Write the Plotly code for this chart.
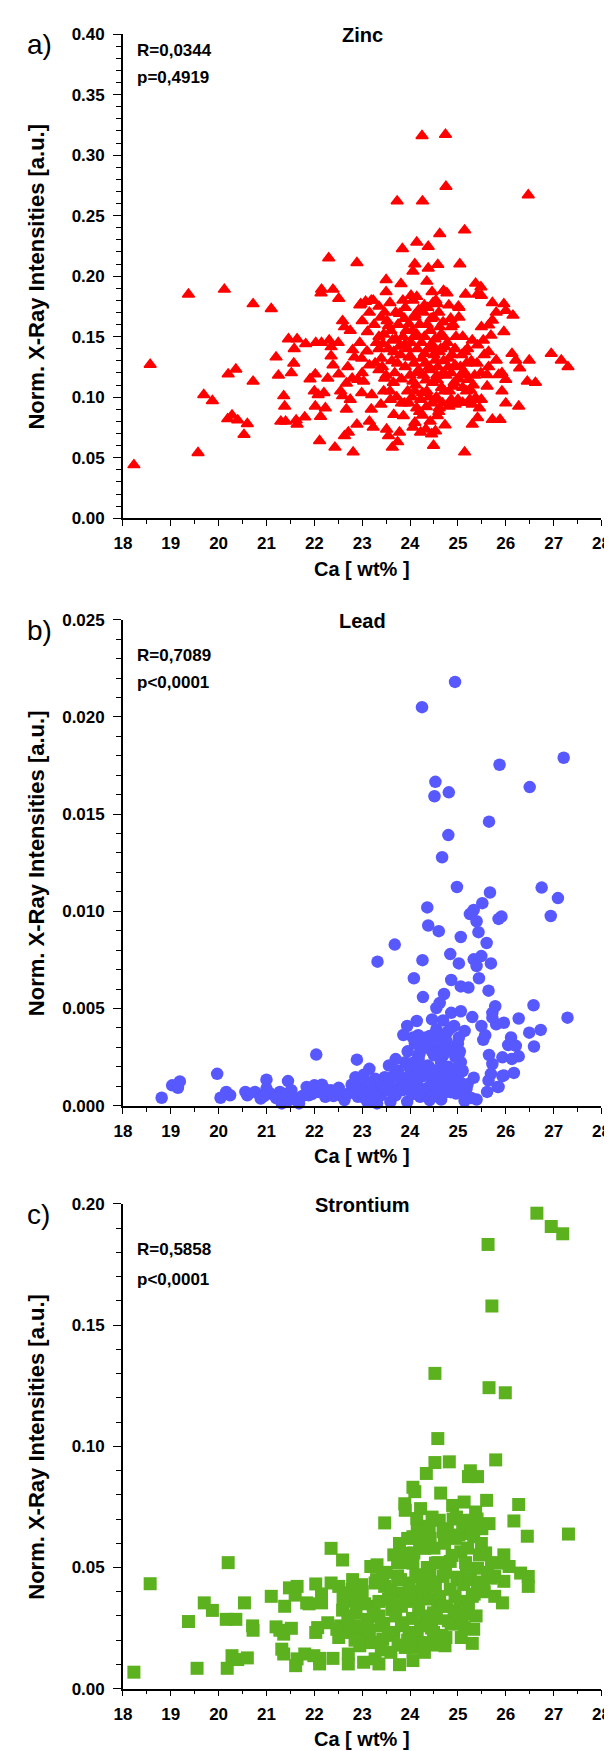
import plotly.graph_objects as go

# ---- data: (Ca wt%, normalised X-ray intensity) ----
zinc_points = [
    (24.25, 0.316), (24.74, 0.317), (24.75, 0.274), (23.73, 0.262), (24.26, 0.262), (26.47, 0.267),
    (25.14, 0.238), (24.62, 0.235), (24.14, 0.228), (24.38, 0.2245), (23.84, 0.2226), (22.30, 0.215),
    (22.89, 0.211), (24.10, 0.210), (24.58, 0.2095), (25.04, 0.210), (24.38, 0.2065), (24.06, 0.204),
    (23.50, 0.197), (23.81, 0.1937), (24.35, 0.1956), (19.37, 0.185), (20.12, 0.189), (20.72, 0.177),
    (21.10, 0.173), (22.15, 0.189), (22.39, 0.189), (22.14, 0.186), (22.51, 0.1815), (23.50, 0.187),
    (24.70, 0.188), (24.77, 0.186), (25.16, 0.185), (25.37, 0.194), (25.48, 0.191), (25.49, 0.184),
    (25.41, 0.185), (24.46, 0.187), (24.02, 0.184), (24.14, 0.183), (24.54, 0.180), (24.30, 0.176),
    (24.81, 0.176), (25.01, 0.175), (23.85, 0.180), (22.95, 0.176), (23.23, 0.180), (23.07, 0.179),
    (18.57, 0.127), (18.23, 0.044), (19.57, 0.054), (19.69, 0.102), (19.87, 0.097), (20.20, 0.119),
    (20.36, 0.123), (20.72, 0.113), (20.19, 0.082), (20.28, 0.085), (20.40, 0.081), (20.60, 0.078),
    (20.53, 0.069), (21.20, 0.133), (21.25, 0.118), (21.46, 0.148), (21.64, 0.148), (21.58, 0.140),
    (21.82, 0.144), (21.57, 0.128), (21.52, 0.120), (21.36, 0.101), (21.38, 0.0925), (21.30, 0.080),
    (21.40, 0.080), (21.62, 0.081), (21.64, 0.0775), (21.80, 0.0835), (22.03, 0.145), (22.15, 0.145),
    (22.31, 0.147), (22.35, 0.1415), (22.35, 0.134), (22.39, 0.1265), (21.91, 0.115), (22.02, 0.119),
    (22.28, 0.1155), (22.00, 0.105), (22.08, 0.102), (22.20, 0.1035), (22.02, 0.0925), (22.23, 0.091),
    (22.13, 0.084), (22.11, 0.064), (22.43, 0.0585), (22.59, 0.163), (22.63, 0.158), (22.51, 0.119),
    (22.59, 0.101), (22.67, 0.090), (22.63, 0.068), (22.71, 0.071), (22.81, 0.0545), (22.89, 0.0775),
    (22.80, 0.139), (22.84, 0.133), (22.75, 0.155), (22.79, 0.1155), (22.67, 0.1115), (22.91, 0.1145),
    (22.99, 0.1035), (23.03, 0.113), (22.99, 0.132), (22.97, 0.177), (23.00, 0.163), (23.19, 0.180),
    (23.15, 0.170), (23.11, 0.154), (23.15, 0.1265), (23.27, 0.128), (23.35, 0.1225), (23.19, 0.090),
    (23.15, 0.080), (23.23, 0.075), (23.39, 0.094), (23.47, 0.1155), (23.51, 0.0735), (23.55, 0.068),
    (23.63, 0.0585), (23.59, 0.098), (23.66, 0.0855), (23.74, 0.063), (23.78, 0.071), (23.82, 0.095),
    (23.86, 0.0845), (23.39, 0.166), (23.47, 0.170), (23.55, 0.159), (23.35, 0.150), (23.43, 0.144),
    (23.63, 0.147), (23.66, 0.1375), (23.74, 0.128), (23.78, 0.169), (23.90, 0.174), (23.98, 0.1605),
    (23.90, 0.144), (24.06, 0.180), (24.10, 0.166), (24.14, 0.152), (24.02, 0.133), (24.18, 0.1225),
    (24.06, 0.113), (24.10, 0.105), (23.98, 0.095), (24.14, 0.091), (24.10, 0.079), (24.06, 0.075),
    (24.22, 0.071), (24.33, 0.0735), (24.45, 0.0695), (24.53, 0.072), (24.49, 0.060), (24.73, 0.077),
    (25.14, 0.0545), (24.26, 0.1035), (24.33, 0.114), (24.42, 0.1225), (24.30, 0.136), (24.45, 0.144),
    (24.42, 0.155), (24.49, 0.166), (24.37, 0.174), (24.57, 0.177), (24.69, 0.162), (24.65, 0.152),
    (24.61, 0.1375), (24.73, 0.1415), (24.81, 0.132), (24.53, 0.1305), (24.57, 0.114), (24.69, 0.120),
    (24.53, 0.098), (24.61, 0.091), (24.57, 0.0845), (24.86, 0.120), (24.94, 0.1265), (24.81, 0.0925),
    (24.94, 0.094), (24.90, 0.109), (25.02, 0.174), (25.02, 0.166), (24.86, 0.158), (25.10, 0.150),
    (25.14, 0.1375), (25.18, 0.128), (25.06, 0.1185), (25.22, 0.1145), (25.26, 0.106), (25.10, 0.0955),
    (25.30, 0.094), (25.30, 0.0775), (25.41, 0.083), (25.45, 0.091), (25.49, 0.098), (25.37, 0.0995),
    (25.30, 0.147), (25.41, 0.143), (25.53, 0.147), (25.49, 0.158), (25.64, 0.1595), (25.72, 0.1635),
    (25.80, 0.170), (26.00, 0.1715), (26.15, 0.1675), (25.69, 0.151), (25.96, 0.154), (25.64, 0.1375),
    (25.80, 0.1305), (25.64, 0.125), (25.61, 0.1185), (25.85, 0.1185), (25.92, 0.120), (26.00, 0.1145),
    (25.61, 0.109), (25.92, 0.105), (26.00, 0.095), (25.72, 0.0815), (25.88, 0.0815), (26.27, 0.0925),
    (26.13, 0.136), (26.21, 0.1305), (26.29, 0.124), (26.49, 0.1305), (26.45, 0.113), (26.62, 0.112),
    (26.95, 0.136), (27.16, 0.1305), (27.30, 0.125), (25.72, 0.178), (25.96, 0.177),
    (23.30, 0.145), (23.45, 0.152), (23.55, 0.140), (23.60, 0.155), (23.70, 0.148), (23.75, 0.160),
    (23.80, 0.135), (23.85, 0.150), (23.90, 0.125), (23.95, 0.140), (24.00, 0.118), (24.05, 0.155),
    (24.08, 0.128), (24.12, 0.110), (24.15, 0.140), (24.20, 0.160), (24.22, 0.098), (24.25, 0.132),
    (24.28, 0.118), (24.30, 0.150), (24.35, 0.105), (24.38, 0.140), (24.40, 0.125), (24.44, 0.165),
    (24.47, 0.112), (24.50, 0.135), (24.52, 0.148), (24.55, 0.100), (24.58, 0.125), (24.62, 0.158),
    (24.66, 0.108), (24.70, 0.130), (24.75, 0.118), (24.78, 0.145), (24.82, 0.105), (24.88, 0.135),
    (24.92, 0.112), (24.96, 0.150), (25.00, 0.098), (25.05, 0.125), (25.10, 0.108), (25.15, 0.120),
    (25.20, 0.140), (25.25, 0.098), (25.35, 0.118), (25.40, 0.128), (23.40, 0.132), (23.50, 0.118),
    (23.65, 0.112), (23.72, 0.100), (23.95, 0.105), (24.02, 0.145), (24.10, 0.168), (24.18, 0.172),
    (24.26, 0.085), (24.34, 0.092), (24.42, 0.080), (24.60, 0.088), (24.68, 0.095), (23.25, 0.160),
    (23.35, 0.175), (23.58, 0.178), (23.88, 0.165), (24.48, 0.178), (24.85, 0.165), (22.50, 0.145),
    (22.70, 0.125), (22.95, 0.145), (23.10, 0.138), (23.20, 0.102), (23.00, 0.120), (22.55, 0.105),
    (22.75, 0.098),
    (23.35, 0.140), (23.42, 0.125), (23.52, 0.163), (23.62, 0.130), (23.68, 0.120), (23.78, 0.142),
    (23.82, 0.115), (23.92, 0.155), (23.98, 0.133), (24.04, 0.100), (24.08, 0.150), (24.16, 0.120),
    (24.24, 0.145), (24.32, 0.128), (24.36, 0.160), (24.46, 0.095), (24.48, 0.140), (24.56, 0.118),
    (24.64, 0.140), (24.72, 0.105), (24.80, 0.125), (24.86, 0.098), (24.94, 0.140), (25.02, 0.115),
    (25.08, 0.135), (25.18, 0.105), (23.58, 0.105), (23.88, 0.095), (24.20, 0.088), (24.40, 0.100),
    (24.70, 0.150), (24.90, 0.160), (23.70, 0.170), (24.28, 0.170), (24.60, 0.170), (25.28, 0.130),
    (25.32, 0.110), (25.48, 0.120), (25.55, 0.135), (23.45, 0.105),
]

lead_points = [
    (24.94, 0.0218), (24.25, 0.0205), (27.21, 0.0179), (25.87, 0.01754), (24.53, 0.01666), (26.50, 0.01639),
    (24.51, 0.01592), (24.81, 0.01612), (25.65, 0.01461), (24.80, 0.01392), (24.67, 0.01278),
    (24.98, 0.01125), (25.67, 0.01097), (26.75, 0.01122), (27.09, 0.01068), (24.36, 0.0102), (25.33, 0.01007),
    (25.25, 0.00986), (25.51, 0.01042), (25.39, 0.00949), (25.85, 0.00961), (25.91, 0.00973), (26.94, 0.00976),
    (24.38, 0.00927), (24.60, 0.00898), (25.43, 0.00893), (25.06, 0.00868), (23.68, 0.00829), (25.60, 0.00837),
    (24.84, 0.0078), (25.49, 0.0077), (25.33, 0.00753), (25.39, 0.00719), (23.32, 0.00741), (24.26, 0.00749),
    (25.02, 0.00732), (25.69, 0.00732), (24.08, 0.00656), (24.86, 0.00647), (25.44, 0.00656), (25.06, 0.00614),
    (25.22, 0.00608), (25.64, 0.00592), (24.71, 0.00575), (24.27, 0.00559), (24.62, 0.00529), (24.55, 0.00503),
    (26.58, 0.00517), (25.78, 0.00512), (24.86, 0.00478), (25.06, 0.00486), (25.72, 0.00478), (25.30, 0.00456),
    (26.27, 0.00449), (27.29, 0.00453), (24.14, 0.00436), (24.46, 0.00444), (24.69, 0.00439), (25.72, 0.00453),
    (25.96, 0.00427), (23.94, 0.0041), (24.92, 0.0041), (25.49, 0.0041), (25.80, 0.00419), (24.55, 0.00393),
    (25.14, 0.00385), (26.73, 0.0039), (26.49, 0.00376), (23.86, 0.00364), (24.17, 0.00363), (24.41, 0.00359),
    (25.02, 0.00351), (25.57, 0.00363), (25.53, 0.00339), (26.11, 0.00351), (24.06, 0.00351), (24.76, 0.00334),
    (24.26, 0.00308), (24.53, 0.00317), (26.05, 0.00312), (26.21, 0.00308), (26.59, 0.00305), (24.94, 0.00292),
    (24.45, 0.00283), (24.69, 0.00258), (25.02, 0.00266), (25.65, 0.00261), (24.17, 0.00254), (25.93, 0.00249),
    (26.27, 0.00254), (26.13, 0.00241), (22.04, 0.00263), (22.89, 0.00237), (25.06, 0.00224), (25.72, 0.00215),
    (23.90, 0.00224), (23.56, 0.00207), (24.37, 0.00207), (23.15, 0.0019), (24.86, 0.0019), (24.21, 0.00181),
    (25.06, 0.00173), (26.17, 0.00169), (25.69, 0.00164), (23.03, 0.00159), (24.00, 0.00156), (25.93, 0.00153),
    (25.33, 0.00144), (22.86, 0.00147), (23.27, 0.00139), (23.47, 0.00147), (23.66, 0.00153), (24.69, 0.00147),
    (25.64, 0.0013), (24.49, 0.00125), (21.00, 0.00134), (21.45, 0.00127), (23.82, 0.00122), (24.14, 0.00114),
    (22.78, 0.00108), (23.35, 0.00105), (24.94, 0.00105), (25.14, 0.00097), (25.83, 0.00097), (25.61, 0.00071),
    (25.18, 0.00088), (19.97, 0.00164), (19.19, 0.00125), (19.03, 0.00105), (19.15, 0.00092), (18.81, 0.00041),
    (20.16, 0.00071), (20.24, 0.00054), (20.04, 0.00041), (20.56, 0.00071), (20.60, 0.00054), (20.76, 0.00071),
    (20.88, 0.00037), (21.00, 0.00088), (21.08, 0.00063), (21.28, 0.00071), (21.32, 0.00012), (21.52, 0.0008),
    (21.48, 0.00029), (21.64, 0.00037), (21.68, 0.00012), (21.84, 0.00097), (21.88, 0.00054), (22.00, 0.00105),
    (22.08, 0.00071), (22.16, 0.00108), (22.23, 0.00046), (22.35, 0.0008), (22.51, 0.00092), (22.55, 0.00054),
    (22.63, 0.00029), (22.71, 0.00063), (22.83, 0.00088), (22.91, 0.00046), (22.99, 0.00071), (23.11, 0.0002),
    (23.19, 0.00088), (23.31, 0.00012), (23.39, 0.00054), (23.51, 0.0008), (23.59, 0.0002), (23.70, 0.00054),
    (23.78, 0.00088), (23.94, 0.0002), (24.02, 0.00071), (24.21, 0.00046), (24.33, 0.0008), (24.41, 0.00029),
    (24.61, 0.00054), (24.65, 0.00032), (24.76, 0.00071), (24.96, 0.00063), (25.14, 0.00025), (25.39, 0.00032),
    (25.85, 0.00097), (25.96, 0.00156),
    (23.75, 0.0018), (23.95, 0.0028), (24.05, 0.0022), (24.10, 0.0032), (24.20, 0.0027), (24.25, 0.0015),
    (24.30, 0.0035), (24.40, 0.0020), (24.45, 0.0012), (24.50, 0.0026), (24.55, 0.0018), (24.60, 0.0036),
    (24.65, 0.0022), (24.70, 0.0030), (24.75, 0.0010), (24.80, 0.0020), (24.85, 0.0040), (24.90, 0.0015),
    (24.95, 0.0025), (25.00, 0.0032), (25.05, 0.0012), (25.10, 0.0018), (23.60, 0.0010), (23.85, 0.0008),
    (24.00, 0.0012), (24.15, 0.0006), (24.35, 0.0009), (24.55, 0.0008), (24.85, 0.0007), (25.00, 0.0009),
    (23.40, 0.0012), (23.20, 0.0008), (22.95, 0.0010), (23.05, 0.0004), (22.40, 0.0005), (22.20, 0.0009),
    (21.95, 0.0006), (21.75, 0.0005), (21.20, 0.0004), (21.40, 0.0006), (20.95, 0.0005),
    (23.10, 0.0012), (23.25, 0.0005), (23.45, 0.0009), (23.55, 0.0014), (23.65, 0.0006), (23.70, 0.0024),
    (23.80, 0.0015), (23.90, 0.0011), (24.00, 0.0019), (24.05, 0.0006), (24.12, 0.0014), (24.18, 0.0024),
    (24.24, 0.0008), (24.28, 0.0020), (24.38, 0.0030), (24.42, 0.0016), (24.48, 0.0005), (24.52, 0.0033),
    (24.58, 0.0013), (24.62, 0.0027), (24.68, 0.0009), (24.72, 0.0017), (24.78, 0.0038), (24.82, 0.0012),
    (24.88, 0.0028), (24.92, 0.0008), (24.98, 0.0019), (25.04, 0.0028), (25.12, 0.0006), (25.20, 0.0011),
    (25.28, 0.0004),
]

strontium_points = [
    (26.65, 0.1962), (26.95, 0.1907), (27.19, 0.1877), (25.63, 0.1833), (25.71, 0.1579), (24.52, 0.1301),
    (25.65, 0.1242), (25.99, 0.1221), (24.58, 0.1032), (24.52, 0.0933), (24.82, 0.0936), (25.79, 0.0944),
    (24.34, 0.0888), (25.26, 0.0899), (25.41, 0.0875), (25.22, 0.0875), (24.06, 0.0831), (24.10, 0.0813),
    (24.64, 0.0807), (25.60, 0.0777), (23.89, 0.0763), (23.90, 0.0736), (24.22, 0.0743), (24.89, 0.0756),
    (25.13, 0.077), (26.27, 0.076), (25.37, 0.0729), (24.97, 0.0708), (24.14, 0.0702), (24.46, 0.0708),
    (24.61, 0.0695), (26.17, 0.0692), (23.47, 0.0684), (25.65, 0.0681), (25.18, 0.0695), (25.33, 0.0681),
    (24.26, 0.0654), (26.45, 0.0629), (27.31, 0.0638), (25.02, 0.0634), (25.33, 0.0627), (24.06, 0.0627),
    (24.33, 0.0627), (24.69, 0.0647), (23.78, 0.0599), (25.49, 0.0599), (24.30, 0.0579), (22.35, 0.0579),
    (23.66, 0.0552), (23.90, 0.0559), (25.06, 0.0565), (25.96, 0.0552), (25.45, 0.0552), (22.59, 0.0531),
    (20.20, 0.052), (23.18, 0.0504), (23.31, 0.0511), (23.74, 0.0518), (24.53, 0.0518), (24.84, 0.0525),
    (25.83, 0.0518), (26.07, 0.0504), (26.31, 0.0477), (26.47, 0.0463), (26.47, 0.0422), (25.96, 0.0443),
    (25.69, 0.0456), (25.41, 0.0497), (18.57, 0.0433), (18.23, 0.0068), (19.37, 0.0277), (19.55, 0.0084),
    (19.70, 0.0354), (19.87, 0.0323), (20.16, 0.0286), (20.36, 0.0286), (20.54, 0.0354), (20.71, 0.0259),
    (20.72, 0.0241), (20.28, 0.0136), (20.40, 0.012), (20.60, 0.0127), (20.18, 0.0084), (21.10, 0.0381),
    (21.20, 0.0255), (21.28, 0.0241), (21.38, 0.034), (21.36, 0.0225), (21.52, 0.0249), (21.32, 0.0163),
    (21.36, 0.0143), (21.48, 0.0416), (21.64, 0.0422), (21.60, 0.0386), (21.61, 0.0095), (21.64, 0.0123),
    (21.84, 0.0354), (21.89, 0.035), (21.80, 0.0143), (22.03, 0.0432), (22.15, 0.0391), (22.15, 0.0354),
    (22.07, 0.0252), (22.03, 0.0232), (22.11, 0.0125), (22.11, 0.0102), (21.99, 0.0136), (22.28, 0.0272),
    (22.35, 0.0436), (22.51, 0.0422), (22.51, 0.0211), (22.39, 0.0125), (22.59, 0.0324), (22.71, 0.0143),
    (22.71, 0.0102), (22.63, 0.0395), (22.79, 0.0409), (22.83, 0.0361), (22.87, 0.0313), (22.99, 0.0429),
    (23.03, 0.0109), (23.27, 0.0123), (23.35, 0.0102), (23.78, 0.0099), (24.06, 0.0116), (23.90, 0.017),
    (24.10, 0.017), (24.38, 0.0188), (24.73, 0.0177), (24.75, 0.0211), (25.07, 0.0211), (25.30, 0.0187),
    (25.33, 0.0245), (25.13, 0.0252), (24.86, 0.0266), (25.13, 0.0307), (24.58, 0.034), (24.94, 0.0381),
    (25.30, 0.0381), (25.41, 0.0409), (25.77, 0.0381), (25.93, 0.0354), (25.53, 0.0436), (25.77, 0.0463),
    (23.47, 0.0422), (23.23, 0.034), (23.11, 0.0286), (23.35, 0.03), (23.62, 0.0327), (22.99, 0.0218),
    (22.95, 0.0177), (23.19, 0.0191), (23.43, 0.0204), (23.66, 0.0232), (23.82, 0.0272), (23.98, 0.0232),
    (24.22, 0.0259), (24.38, 0.0286), (24.49, 0.0232), (23.74, 0.0395), (23.98, 0.0436), (24.22, 0.0463),
    (24.41, 0.049), (24.69, 0.0463), (24.14, 0.0368), (24.30, 0.0395), (24.53, 0.0422), (23.74, 0.0463),
    (24.06, 0.0518), (23.82, 0.034), (23.43, 0.0463), (23.27, 0.0436), (23.55, 0.0368), (24.76, 0.034),
    (25.02, 0.045), (25.18, 0.049), (22.55, 0.0259), (22.67, 0.0232), (22.47, 0.0245), (22.79, 0.0252),
    (23.39, 0.0259), (24.49, 0.0313),
    (23.15, 0.024), (23.25, 0.031), (23.35, 0.036), (23.45, 0.027), (23.55, 0.022), (23.60, 0.041),
    (23.70, 0.030), (23.75, 0.018), (23.80, 0.045), (23.85, 0.026), (23.92, 0.036), (23.95, 0.020),
    (24.00, 0.040), (24.05, 0.029), (24.12, 0.047), (24.15, 0.022), (24.18, 0.033), (24.25, 0.042),
    (24.28, 0.019), (24.32, 0.030), (24.36, 0.050), (24.40, 0.037), (24.45, 0.025), (24.48, 0.044),
    (24.55, 0.029), (24.58, 0.052), (24.62, 0.038), (24.66, 0.022), (24.70, 0.034), (24.74, 0.048),
    (24.80, 0.028), (24.84, 0.041), (24.88, 0.055), (24.92, 0.032), (24.98, 0.046), (25.04, 0.036),
    (25.08, 0.027), (25.12, 0.043), (25.16, 0.052), (25.22, 0.034), (25.26, 0.045), (25.34, 0.039),
    (25.38, 0.030), (25.45, 0.044), (25.55, 0.040), (25.62, 0.048), (23.05, 0.035), (23.00, 0.040),
    (22.90, 0.026), (23.30, 0.045), (23.50, 0.048), (23.65, 0.036), (23.88, 0.052), (24.08, 0.056),
    (24.20, 0.060), (24.42, 0.062), (24.50, 0.058), (24.72, 0.060), (24.78, 0.066), (24.95, 0.062),
    (25.10, 0.067), (25.28, 0.064), (25.40, 0.070), (25.50, 0.066), (24.90, 0.070), (24.40, 0.067),
    (24.15, 0.065), (23.95, 0.062), (25.20, 0.058), (25.58, 0.056), (25.70, 0.052), (23.20, 0.019),
    (23.60, 0.015), (24.30, 0.015), (24.55, 0.018), (23.40, 0.016), (22.85, 0.020), (22.70, 0.030),
    (22.60, 0.037), (22.80, 0.045),
]

panels = [
    dict(letter="a)", name="Zinc", r="R=0,0344", p="p=0,4919", points=zinc_points,
         ymax=0.40, dtick=0.05, minor=0.01, fmt=".2f", symbol="triangle-up", size=10.5, color="#FF0000",
         top=17.3, bottom=506.7, r_dy=17, p_dy=44),
    dict(letter="b)", name="Lead", r="R=0,7089", p="p&lt;0,0001", points=lead_points,
         ymax=0.025, dtick=0.005, minor=0.001, fmt=".3f", symbol="circle", size=12.5, color="#5858FF",
         top=609.3, bottom=1100.7, r_dy=36, p_dy=63),
    dict(letter="c)", name="Strontium", r="R=0,5858", p="p&lt;0,0001", points=strontium_points,
         ymax=0.20, dtick=0.05, minor=0.01, fmt=".2f", symbol="square", size=13, color="#5CB11E",
         top=1200, bottom=1690, r_dy=46, p_dy=76),
]

W, H = 612, 1751
X0, X1 = 109.1, 602.2
FONT = "Liberation Sans, Arial, sans-serif"


def fx(px):
    return px / W


def fy(py):
    return 1 - py / H


fig = go.Figure()
annotations = []

for i, pnl in enumerate(panels):
    n = "" if i == 0 else str(i + 1)
    xs = [pt[0] for pt in pnl["points"]]
    ys = [pt[1] for pt in pnl["points"]]
    line = dict(width=1.5, color=pnl["color"]) if pnl["symbol"] == "triangle-up" else dict(width=0)
    fig.add_trace(go.Scatter(
        x=xs, y=ys, mode="markers", xaxis="x" + n, yaxis="y" + n, showlegend=False,
        cliponaxis=False,
        marker=dict(symbol=pnl["symbol"], size=pnl["size"], color=pnl["color"], line=line),
    ))

    fig.update_layout({
        "xaxis" + n: dict(
            domain=[fx(X0), fx(X1)], range=[18, 28], anchor="y" + n,
            showline=True, linecolor="black", linewidth=1.5, showgrid=False, zeroline=False,
            ticks="outside", ticklen=6, tickwidth=1.2, tickcolor="black", dtick=1,
            ticklabelstandoff=3,
            minor=dict(dtick=0.5, ticks="outside", ticklen=4, tickcolor="black", tickwidth=1),
            tickfont=dict(family=FONT, size=17, color="black", weight="bold"),
        ),
        "yaxis" + n: dict(
            domain=[fy(pnl["bottom"]), fy(pnl["top"])], range=[0, pnl["ymax"]], anchor="x" + n,
            showline=True, linecolor="black", linewidth=1.5, showgrid=False, zeroline=False,
            ticks="outside", ticklen=8, tickwidth=1.2, tickcolor="black", dtick=pnl["dtick"],
            tickformat=pnl["fmt"], ticklabelstandoff=5,
            minor=dict(dtick=pnl["minor"], ticks="outside", ticklen=5, tickcolor="black", tickwidth=1),
            tickfont=dict(family=FONT, size=17, color="black", weight="bold"),
        ),
    })

    top, bottom = pnl["top"], pnl["bottom"]
    bold17 = dict(family=FONT, size=17, color="black", weight="bold")
    annotations += [
        dict(text=pnl["letter"], x=fx(8), y=fy(top + 11), xanchor="left", yanchor="middle",
             font=dict(family=FONT, size=28, color="black")),
        dict(text=pnl["name"], x=fx((X0 + X1) / 2), y=fy(top + 1), xanchor="center", yanchor="middle",
             font=dict(family=FONT, size=20, color="black", weight="bold")),
        dict(text=pnl["r"], x=fx(122), y=fy(top + pnl["r_dy"]),
             xanchor="left", yanchor="middle", font=bold17),
        dict(text=pnl["p"], x=fx(122), y=fy(top + pnl["p_dy"]),
             xanchor="left", yanchor="middle", font=bold17),
        dict(text="Ca [ wt% ]", x=fx((X0 + X1) / 2), y=fy(bottom + 51), xanchor="center", yanchor="middle",
             font=dict(family=FONT, size=20, color="black", weight="bold")),
        dict(text="Norm. X-Ray Intensities [a.u.]", x=fx(20), y=fy((top + bottom) / 2), textangle=-90,
             xanchor="center", yanchor="middle",
             font=dict(family=FONT, size=22, color="black", weight="bold")),
    ]

for a in annotations:
    a.update(xref="paper", yref="paper", showarrow=False)

fig.update_layout(
    width=W, height=H, margin=dict(l=0, r=0, t=0, b=0),
    paper_bgcolor="white", plot_bgcolor="white",
    annotations=annotations,
)

fig.write_html("out.html")
